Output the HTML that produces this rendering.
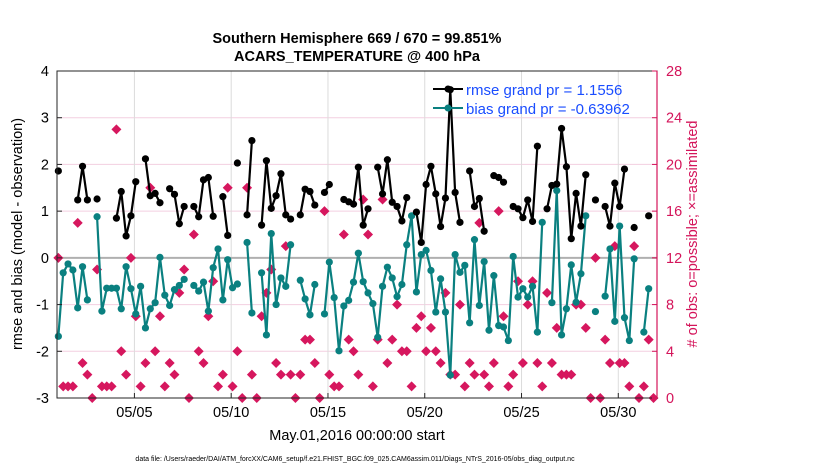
<!DOCTYPE html>
<html><head><meta charset="utf-8"><style>
body{margin:0;background:#fff;}
svg{display:block;font-family:"Liberation Sans",sans-serif;}
</style></head><body>
<svg id="chart" width="830" height="470" viewBox="0 0 830 470" xmlns="http://www.w3.org/2000/svg">
<text x="357" y="43" text-anchor="middle" font-size="14.5" font-weight="bold">Southern Hemisphere 669 / 670 = 99.851%</text>
<text x="357" y="61" text-anchor="middle" font-size="14.5" font-weight="bold">ACARS_TEMPERATURE @ 400 hPa</text>
<text transform="translate(22,234) rotate(-90)" text-anchor="middle" font-size="14.5">rmse and bias (model - observation)</text>
<text transform="translate(697,234) rotate(-90)" text-anchor="middle" font-size="14.5" fill="#d4145a">#  of obs: o=possible; ×=assimilated</text>
<text x="357" y="440" text-anchor="middle" font-size="14.5">May.01,2016 00:00:00 start</text>
<text x="355" y="461" text-anchor="middle" font-size="7">data file: /Users/raeder/DAI/ATM_forcXX/CAM6_setup/f.e21.FHIST_BGC.f09_025.CAM6assim.011/Diags_NTrS_2016-05/obs_diag_output.nc</text>
<g id="grid"></g><g id="marks"></g><g id="axes"></g>
<g>
<line x1="433" y1="89" x2="463" y2="89" stroke="#000" stroke-width="2"/><circle cx="448" cy="89" r="3.5" fill="#000"/>
<text x="466" y="95" font-size="15" fill="#1a4dff">rmse grand pr = 1.1556</text>
<line x1="433" y1="108" x2="463" y2="108" stroke="#0a8080" stroke-width="2"/><circle cx="448" cy="108" r="3.5" fill="#0a8080"/>
<text x="466" y="114" font-size="15" fill="#1a4dff">bias grand pr = -0.63962</text>
</g>
</svg>
<script>
const leftTicks=[4,3,2,1,0,-1,-2,-3];
const rightTicks=[0,4,8,12,16,20,24,28];
const dayTicks=[4,9,14,19,24,29];
const dayLabels=["05/05","05/10","05/15","05/20","05/25","05/30"];
const slotDays=0.25, firstSlotDay=0.07;
const R=null;
const rmse=[1.86,R,R,R,1.24,1.96,1.24,R,1.26,R,R,R,0.85,1.42,0.47,0.9,1.63,R,2.12,1.33,1.38,1.18,R,1.48,1.36,0.73,1.1,R,1.1,0.88,1.67,1.72,0.89,R,1.31,0.48,R,2.03,R,0.92,2.51,R,0.7,2.08,1.06,1.33,1.8,0.92,0.83,R,0.92,1.47,1.42,1.13,R,1.4,1.57,R,R,1.25,1.2,1.15,1.94,0.7,1.05,R,1.94,1.37,2.1,1.19,1.1,0.79,1.29,R,0.98,0.33,1.57,1.96,1.37,0.67,1.28,3.6,1.4,0.76,R,1.86,1.1,1.27,0.57,R,1.76,1.72,1.62,R,1.1,1.05,0.86,1.24,0.78,2.39,R,1.05,1.55,1.58,2.77,1.95,0.41,1.38,0.68,1.78,R,1.24,R,1.1,0.68,1.6,1.1,1.9,R,0.65,R,R,0.9,R];
const bias=[-1.68,-0.32,-0.13,-0.26,-1.07,-0.19,-0.9,R,0.88,-1.14,-0.65,-0.65,-0.65,-1.09,-0.19,-0.66,-1.2,-0.61,-1.5,-1.09,-0.96,0.01,-0.8,-1.02,-0.68,-0.59,-0.46,R,-0.59,-0.71,-0.52,-1.14,-0.21,0.19,-0.9,-0.04,-0.64,-0.56,R,0.33,-1.18,R,-0.32,-1.65,0.52,-1.0,-0.43,-0.61,0.28,R,-0.48,-0.88,-1.22,-0.57,R,-1.2,-0.09,-0.85,-1.99,-1.03,-0.91,-0.52,0.1,-0.51,-0.75,-0.98,-1.7,-0.61,-0.2,-0.43,-0.83,-0.57,0.28,0.9,-0.73,0.07,0.16,-0.27,-1.16,-0.45,-1.16,-2.51,0.07,-0.31,-0.16,-1.39,0.39,-1.02,-0.08,-1.55,-0.38,-1.45,-1.48,-1.77,0.03,-0.84,-0.66,-0.84,-0.61,-1.59,0.76,R,-0.96,1.44,-1.65,-1.09,-0.15,-0.95,-0.34,0.9,R,-1.15,R,-0.82,0.19,-1.36,0.68,-1.28,-1.77,-0.02,R,-1.59,-0.66,R];
const obsCount=[12,1,1,1,15,3,2,0,11,1,1,1,23,4,2,12,7,1,3,18,4,7,1,3,2,9,11,0,14,4,3,7,10,1,2,18,1,4,0,18,2,0,7,9,11,3,2,13,2,0,2,5,5,3,0,16,2,1,1,14,5,4,2,17,14,1,5,17,3,5,8,4,4,1,6,7,4,6,4,3,9,2,2,8,1,3,2,15,2,1,3,16,7,1,2,10,3,8,10,3,1,9,3,6,2,2,2,8,8,6,0,12,0,5,3,13,3,3,1,13,0,1,5,0];

const X0=57,X1=657,Y0=71,Y1=398;
const xs=d=>X0+(d/31)*(X1-X0);
const ys=v=>Y1-(v+3)/7*(Y1-Y0);
const ys2=c=>Y1-c/28*(Y1-Y0);
const NS="http://www.w3.org/2000/svg";
function mk(tag,attrs,parent){const e=document.createElementNS(NS,tag);for(const k in attrs)e.setAttribute(k,attrs[k]);parent.appendChild(e);return e;}
const grid=document.getElementById('grid'),marks=document.getElementById('marks'),axes=document.getElementById('axes');
const slotX=i=>xs(firstSlotDay+i*slotDays);

rightTicks.forEach(c=>{const l=mk('line',{x1:X0,x2:X1,y1:ys2(c),y2:ys2(c),stroke:'#f3cfe0','stroke-width':1},grid);

});
dayTicks.forEach(d=>{const l=mk('line',{x1:xs(d),x2:xs(d),y1:Y0,y2:Y1,stroke:'#dcdcdc','stroke-width':1},grid);

});
const zl=mk('line',{x1:X0,x2:X1,y1:ys(0),y2:ys(0),stroke:'#b0b0b0','stroke-width':2},grid);



obsCount.forEach((c,i)=>{if(c===null)return;const x=slotX(i),y=ys2(c);
const p=mk('polygon',{points:`${x},${y-5} ${x+5},${y} ${x},${y+5} ${x-5},${y}`,fill:'#d6175e'},marks);

});

function series(vals,color,name){
 let segs=[],cur=[];
 vals.forEach((v,i)=>{if(v===null){if(cur.length)segs.push(cur);cur=[];}else cur.push([slotX(i),ys(v)]);});
 if(cur.length)segs.push(cur);
 segs.forEach(s=>{if(s.length>1){const pl=mk('polyline',{points:s.map(p=>p.join(',')).join(' '),fill:'none',stroke:color,'stroke-width':2.2},marks);
 
 }
 s.forEach(p=>{const c=mk('circle',{cx:p[0],cy:p[1],r:3.6,fill:color},marks);
 
 });});
}
series(bias,'#0a8080','bias');
series(rmse,'#000000','rmse');

const fr=mk('rect',{x:X0,y:Y0,width:X1-X0,height:Y1-Y0,fill:'none',stroke:'#262626','stroke-width':1},axes);


const ra=mk('line',{x1:X1,x2:X1,y1:Y0,y2:Y1,stroke:'#d4145a','stroke-width':1.2},axes);


leftTicks.forEach(v=>{const t=mk('text',{x:X0-8,y:ys(v)+5,'text-anchor':'end','font-size':14.5},axes);t.textContent=v;


const k=mk('line',{x1:X0,x2:X0+5,y1:ys(v),y2:ys(v),stroke:'#262626'},axes);

});
rightTicks.forEach(c=>{const t=mk('text',{x:X1+9,y:ys2(c)+5,'font-size':14.5,fill:'#d4145a'},axes);t.textContent=c;


const k=mk('line',{x1:X1-5,x2:X1,y1:ys2(c),y2:ys2(c),stroke:'#d4145a'},axes);

});
dayTicks.forEach((d,i)=>{const t=mk('text',{x:xs(d),y:Y1+19,'text-anchor':'middle','font-size':14.5},axes);t.textContent=dayLabels[i];


const k=mk('line',{x1:xs(d),x2:xs(d),y1:Y1,y2:Y1-5,stroke:'#262626'},axes);

});
</script>
</body></html>
